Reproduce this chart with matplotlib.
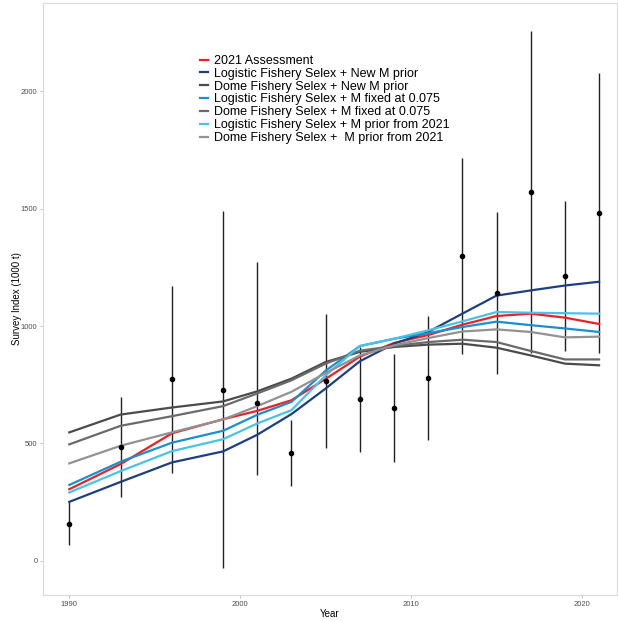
import matplotlib

matplotlib.use("Agg")
import matplotlib.pyplot as plt

plt.rcParams["font.family"] = ["Liberation Sans", "DejaVu Sans"]

years = [1990, 1993, 1996, 1999, 2001, 2003, 2005, 2007, 2009, 2011, 2013, 2015, 2017, 2019, 2021]

# survey observations with interval bounds
obs = [158, 483, 773, 728, 674, 460, 766, 688, 652, 779, 1299, 1142, 1571, 1213, 1480]
obs_lo = [67, 273, 375, -31, 365, 319, 479, 463, 421, 514, 883, 797, 887, 892, 885]
obs_hi = [251, 698, 1173, 1489, 1275, 599, 1053, 911, 880, 1045, 1718, 1487, 2257, 1534, 2077]

# model fits
assess_2021 = [305, 412, 543, 603, 639, 684, 775, 870, 928, 962, 1006, 1043, 1053, 1036, 1009]
log_new_m = [251, 336, 419, 466, 537, 625, 734, 850, 925, 975, 1053, 1130, 1152, 1173, 1189]
dome_new_m = [547, 623, 653, 679, 722, 776, 847, 890, 911, 921, 925, 908, 875, 840, 833]
log_fixed = [323, 422, 503, 554, 622, 677, 810, 915, 946, 970, 996, 1019, 1004, 990, 975]
dome_fixed = [496, 575, 616, 659, 713, 769, 840, 895, 915, 932, 942, 932, 894, 858, 858]
log_prior = [291, 382, 467, 518, 585, 642, 790, 915, 946, 982, 1020, 1060, 1057, 1055, 1053]
dome_prior = [415, 490, 547, 602, 659, 720, 800, 875, 918, 949, 977, 986, 975, 952, 955]

series = [
    ("2021 Assessment", assess_2021, "#EE2027"),
    ("Logistic Fishery Selex + New M prior", log_new_m, "#1D3F80"),
    ("Dome Fishery Selex + New M prior", dome_new_m, "#4B4B4B"),
    ("Logistic Fishery Selex + M fixed at 0.075", log_fixed, "#1A8FCF"),
    ("Dome Fishery Selex + M fixed at 0.075", dome_fixed, "#6A6A6A"),
    ("Logistic Fishery Selex + M prior from 2021", log_prior, "#48C3E6"),
    ("Dome Fishery Selex +  M prior from 2021", dome_prior, "#929292"),
]

fig = plt.figure(figsize=(6.18, 6.21), dpi=100)
ax = fig.add_axes([43 / 618, 26 / 621, 574 / 618, 592 / 621])

ax.vlines(years, obs_lo, obs_hi, color="#222222", lw=1, zorder=1)

for label, vals, col in series:
    ax.plot(years, vals, color=col, lw=1.6, label=label, zorder=2)

ax.scatter(years, obs, s=9, color="black", zorder=3)

ax.set_xlim(1988.46, 2022.05)
ax.set_ylim(-146, 2377)
ax.set_xticks([1990, 2000, 2010, 2020])
ax.set_yticks([0, 500, 1000, 1500, 2000])
ax.tick_params(labelsize=5.5, labelcolor="#4D4D4D", color="#BBBBBB", length=2, width=0.6, pad=2)
for s in ax.spines.values():
    s.set_color("#D9D9D9")
    s.set_linewidth(0.8)

ax.set_xlabel("Year", fontsize=7, labelpad=1)
ax.set_ylabel("Survey Index (1000 t)", fontsize=7, labelpad=-1)

leg = ax.legend(
    loc="upper left",
    bbox_to_anchor=(200 / 618, 1 - 55 / 621),
    bbox_transform=fig.transFigure,
    frameon=False,
    fontsize=9.0,
    handlelength=0.64,
    handletextpad=0.48,
    labelspacing=0.065,
    borderpad=0,
    borderaxespad=0,
)

plt.savefig("out.png", dpi=100)
